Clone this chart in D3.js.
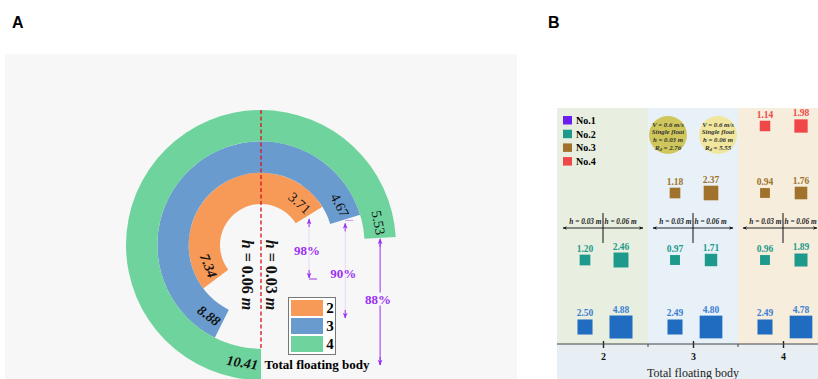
<!DOCTYPE html>
<html><head><meta charset="utf-8">
<script src="https://cdn.jsdelivr.net/npm/d3@7"></script>
<style>body{margin:0;background:#fff}svg{display:block}</style></head>
<body>
<svg id="c" width="818" height="379"></svg>
<script>
// ---------- Panel A data ----------
const ringCats = ["2", "3", "4"];
const valsH003 = [3.71, 4.67, 5.53];
const valsH006 = [7.34, 8.88, 10.41];
const effPct = ["98%", "90%", "88%"];
const ringColors = ["#F79A57", "#6A9BCF", "#6FD39D"];

// ---------- Panel B data ----------
const floatCats = ["2", "3", "4"];
const floatNos = ["No.1", "No.2", "No.3", "No.4"];
const no1H003 = [2.50, 2.49, 2.49];
const no1H006 = [4.88, 4.80, 4.78];
const no2H003 = [1.20, 0.97, 0.96];
const no2H006 = [2.46, 1.71, 1.89];
const no3H003 = [null, 1.18, 0.94];
const no3H006 = [null, 2.37, 1.76];
const no4H003 = [null, null, 1.14];
const no4H006 = [null, null, 1.98];
const singleH = ["0.03", "0.06"];
const singleRd = [2.76, 5.55];
const noColors = ["#1F6CC0", "#1E9A8C", "#A0722C", "#F04848"];
const noLegendColors = ["#6A1EF0", "#1E9A8C", "#A0722C", "#F04848"];
const noTextColors = ["#3B80D2", "#1E9A8C", "#A0722C", "#F04848"];

const svg = d3.select("#c");
const serif = "'Liberation Serif','Times New Roman',serif";
const purple = "#9B30F5";

// ============ PANEL A ============
svg.append("text").attr("x", 12).attr("y", 28).text("A")
  .attr("font-family", "Liberation Sans, Arial, sans-serif").attr("font-weight", "bold").attr("font-size", 16);
svg.append("rect").attr("x", 5).attr("y", 54).attr("width", 512).attr("height", 325).attr("fill", "#f7f7f7");

const cx = 261, cy = 245;
const gA = svg.append("g").attr("transform", `translate(${cx},${cy})`);
const rBand = d3.scaleBand().domain(ringCats).range([41, 135]);
const bw = rBand.bandwidth();
const angleR = d3.scaleLinear().domain([0, 11.5]).range([0, Math.PI]);
const angleL = d3.scaleLinear().domain([0, 10.41]).range([0, Math.PI]);
const color = d3.scaleOrdinal().domain(ringCats).range(ringColors);
const arc = d3.arc();

ringCats.forEach((c, i) => {
  gA.append("path").attr("d", arc({innerRadius: rBand(c), outerRadius: rBand(c) + bw,
    startAngle: -angleL(valsH006[i]), endAngle: 0})).attr("fill", color(c));
  gA.append("path").attr("d", arc({innerRadius: rBand(c), outerRadius: rBand(c) + bw,
    startAngle: 0, endAngle: angleR(valsH003[i])})).attr("fill", color(c));
});

// dashed center line
gA.append("line").attr("x1", 0).attr("x2", 0).attr("y1", -135).attr("y2", 103)
  .attr("stroke", "#d9121b").attr("stroke-width", 1.3).attr("stroke-dasharray", "4,2.5");

const fmt = d3.format(".2f");
// right labels
ringCats.forEach((c, i) => {
  const r = rBand(c) + bw / 2;
  const t = gA.append("text").text(fmt(valsH003[i])).attr("font-family", serif)
    .attr("font-size", 14).attr("text-anchor", "middle").attr("dominant-baseline", "central").attr("fill", "#111");
  const len = t.node().getComputedTextLength();
  const a = angleR(valsH003[i]) - (len / 2 + 3) / r;
  t.attr("transform", `translate(${r * Math.sin(a)},${-r * Math.cos(a)}) rotate(${a * 180 / Math.PI})`);
});
// left labels
ringCats.forEach((c, i) => {
  const r = rBand(c) + bw / 2;
  const t = gA.append("text").text(fmt(valsH006[i])).attr("font-family", serif)
    .attr("font-size", 14).attr("font-weight", "bold").attr("font-style", "italic")
    .attr("text-anchor", "middle").attr("dominant-baseline", "central").attr("fill", "#111");
  const len = t.node().getComputedTextLength();
  const a = -(angleL(valsH006[i]) - (len / 2 + 3) / r);
  t.attr("transform", `translate(${r * Math.sin(a)},${-r * Math.cos(a)}) rotate(${a * 180 / Math.PI + 180})`);
});

// h labels (vertical)
function hLabel(g, x, y, val, size) {
  const t = g.append("text").attr("font-family", serif).attr("font-size", size).attr("font-weight", "bold")
    .attr("text-anchor", "middle").attr("dominant-baseline", "central").attr("fill", "#111")
    .attr("transform", `translate(${x},${y}) rotate(90)`);
  t.append("tspan").attr("font-style", "italic").text("h");
  t.append("tspan").text(" = " + val + " ");
  t.append("tspan").attr("font-style", "italic").text("m");
  return t;
}
hLabel(gA, -13, 30, "0.06", 16);
hLabel(gA, 11, 30, "0.03", 16);

// purple arrows
const defs = svg.append("defs");
defs.append("marker").attr("id", "ah").attr("viewBox", "0 0 10 10").attr("refX", 9).attr("refY", 5)
  .attr("markerWidth", 6).attr("markerHeight", 7).attr("orient", "auto-start-reverse")
  .append("path").attr("d", "M0,1 L10,5 L0,9 L3,5 Z").attr("fill", purple);

const arrowBottoms = [278, 318, 365];
const pctY = [250, 273, 299];
ringCats.forEach((c, i) => {
  const r = rBand(c) + bw / 2;
  const a = angleR(valsH003[i]);
  const x = cx + r * Math.sin(a);
  const y0 = cy - r * Math.cos(a) + (i === 2 ? 1 : 4);
  const faint = i < 2;
  svg.append("line").attr("x1", x).attr("x2", x).attr("y1", y0 + 1).attr("y2", arrowBottoms[i])
    .attr("stroke", purple).attr("stroke-width", faint ? 0.6 : 1).attr("stroke-opacity", faint ? 0.25 : 1);
  svg.append("line").attr("x1", x).attr("x2", x).attr("y1", y0 + 8).attr("y2", y0)
    .attr("stroke", purple).attr("stroke-width", 1).attr("marker-end", "url(#ah)");
  svg.append("line").attr("x1", x).attr("x2", x).attr("y1", arrowBottoms[i] - 8).attr("y2", arrowBottoms[i])
    .attr("stroke", purple).attr("stroke-width", 1).attr("marker-end", "url(#ah)");
  if (i === 0) svg.append("line").attr("x1", x).attr("x2", x + 8).attr("y1", arrowBottoms[i] + 1).attr("y2", arrowBottoms[i] + 1)
    .attr("stroke", purple).attr("stroke-width", 1);
  if (i === 1) svg.append("line").attr("x1", x).attr("x2", x + 8).attr("y1", y0 - 3).attr("y2", y0 - 3)
    .attr("stroke", purple).attr("stroke-width", 0.8).attr("stroke-opacity", 0.6);
  const tx = svg.append("text").attr("x", x - 2).attr("y", pctY[i]).text(effPct[i])
    .attr("font-family", serif).attr("font-weight", "bold").attr("font-size", 13)
    .attr("text-anchor", "middle").attr("dominant-baseline", "central").attr("fill", purple);
  if (i === 2) {
    const bb = tx.node().getBBox();
    svg.insert("rect", () => tx.node()).attr("x", bb.x).attr("y", bb.y + 1).attr("width", bb.width).attr("height", bb.height - 2)
      .attr("fill", "#f7f7f7");
  }
});

// legend A
const lg = svg.append("g");
lg.append("rect").attr("x", 288.5).attr("y", 297.5).attr("width", 47).attr("height", 57)
  .attr("fill", "#fff").attr("stroke", "#777").attr("stroke-width", 1);
ringCats.forEach((c, i) => {
  lg.append("rect").attr("x", 291).attr("y", 300 + i * 18).attr("width", 32).attr("height", 16).attr("fill", color(c));
  lg.append("text").attr("x", 330).attr("y", 308 + i * 18).text(c).attr("font-family", serif)
    .attr("font-weight", "bold").attr("font-size", 15).attr("text-anchor", "middle").attr("dominant-baseline", "central");
});
svg.append("text").attr("x", 317).attr("y", 364).text("Total floating body").attr("font-family", serif)
  .attr("font-weight", "bold").attr("font-size", 13).attr("text-anchor", "middle").attr("dominant-baseline", "central");

// ============ PANEL B ============
svg.append("text").attr("x", 548).attr("y", 28).text("B")
  .attr("font-family", "Liberation Sans, Arial, sans-serif").attr("font-weight", "bold").attr("font-size", 16);

const x = d3.scalePoint().domain(floatCats).range([603, 783]);
const step = x.step();
const y = d3.scalePoint().domain(floatNos).range([327, 126]);
const size = d3.scaleLinear().domain([0, 4.88]).range([6.7, 23]);
const hOff = [-18, 18];
const axisY = 344;

svg.append("rect").attr("x", 557).attr("y", 108).attr("width", 261).attr("height", 271).attr("fill", "#e7eff4");
const colBg = ["#e9efe0", "#e8f1f7", "#f6eddc"];
floatCats.forEach((c, i) => {
  svg.append("rect").attr("x", Math.max(557, x(c) - step / 2)).attr("y", 108)
    .attr("width", x(c) + step / 2 - Math.max(557, x(c) - step / 2)).attr("height", axisY - 108).attr("fill", colBg[i]);
});

// single float bubbles
const bubbleColors = ["#D0C75C", "#F0E69E"];
singleH.forEach((h, j) => {
  const bx = [668, 718][j], by = 135;
  svg.append("circle").attr("cx", bx).attr("cy", by).attr("r", 19).attr("fill", bubbleColors[j]);
  const lines = ["V = 0.6 m/s", "Single float", "h = " + h + " m", null];
  const fs = 6.8;
  lines.forEach((l, k) => {
    const t = svg.append("text").attr("x", bx).attr("y", by - 11 + k * 7.6).attr("font-family", serif)
      .attr("font-size", fs).attr("font-weight", "bold").attr("font-style", "italic").attr("fill", "#333")
      .attr("text-anchor", "middle").attr("dominant-baseline", "central");
    if (l) t.text(l);
    else {
      t.append("tspan").text("R");
      t.append("tspan").attr("font-size", 4.8).attr("dy", 2).text("d");
      t.append("tspan").attr("dy", -2).text(" = " + singleRd[j]);
    }
  });
});

// h cross arrows
defs.append("marker").attr("id", "bh").attr("viewBox", "0 0 10 10").attr("refX", 9).attr("refY", 5)
  .attr("markerWidth", 6).attr("markerHeight", 5).attr("orient", "auto-start-reverse")
  .append("path").attr("d", "M0,1 L10,5 L0,9 L3,5 Z").attr("fill", "#111");
floatCats.forEach(c => {
  const xc = x(c);
  svg.append("line").attr("x1", xc - 40).attr("x2", Math.min(817, xc + 40)).attr("y1", 228).attr("y2", 228)
    .attr("stroke", "#111").attr("stroke-width", 0.9).attr("marker-start", "url(#bh)").attr("marker-end", "url(#bh)");
  svg.append("line").attr("x1", xc).attr("x2", xc).attr("y1", 213).attr("y2", 243).attr("stroke", "#111").attr("stroke-width", 1);
  [["0.03", -1], ["0.06", 1]].forEach(([v, s]) => {
    const t = svg.append("text").attr("x", xc + s * 1.5).attr("y", 224).attr("font-family", serif)
      .attr("font-size", 7.3).attr("font-weight", "bold").attr("font-style", "italic").attr("fill", "#222")
      .attr("text-anchor", s < 0 ? "end" : "start");
    t.text("h = " + v + " m");
  });
});

// squares
const series = [[no1H003, no1H006], [no2H003, no2H006], [no3H003, no3H006], [no4H003, no4H006]];
series.forEach((pair, n) => {
  pair.forEach((arr, j) => {
    arr.forEach((v, ci) => {
      if (v == null) return;
      const xc = x(floatCats[ci]) + hOff[j];
      const yc = y(floatNos[n]);
      const s = size(v);
      svg.append("rect").attr("x", xc - s / 2).attr("y", yc - s / 2).attr("width", s).attr("height", s)
        .attr("fill", noColors[n]);
      svg.append("text").attr("x", xc).attr("y", yc - s / 2 - 3).text(fmt(v)).attr("font-family", serif)
        .attr("font-weight", "bold").attr("font-size", 9.5).attr("text-anchor", "middle").attr("fill", noTextColors[n]);
    });
  });
});

// legend B
floatNos.forEach((n, i) => {
  svg.append("rect").attr("x", 563).attr("y", 116 + i * 13.7).attr("width", 9).attr("height", 8.5).attr("fill", noLegendColors[i]);
  svg.append("text").attr("x", 576).attr("y", 120.5 + i * 13.7).text(n).attr("font-family", serif)
    .attr("font-weight", "bold").attr("font-size", 10).attr("dominant-baseline", "central");
});

// axis
const axis = d3.axisBottom(x).tickSize(0).tickPadding(9);
const ga = svg.append("g").attr("transform", `translate(0,${axisY})`).call(axis);
ga.select(".domain").remove();
ga.append("line").attr("x1", 557).attr("x2", 818).attr("stroke", "#444").attr("stroke-width", 1);
ga.selectAll(".tick").append("line").attr("y1", -3).attr("y2", 4).attr("stroke", "#222").attr("stroke-width", 1.4);
ga.selectAll(".tick text").attr("font-family", serif).attr("font-weight", "bold").attr("font-size", 10).attr("fill", "#111");
[648, 738].forEach(mx => ga.append("line").attr("x1", mx).attr("x2", mx).attr("y1", 0).attr("y2", 3).attr("stroke", "#444"));
svg.append("text").attr("x", 693).attr("y", 373).text("Total floating body").attr("font-family", serif)
  .attr("font-size", 12).attr("text-anchor", "middle").attr("dominant-baseline", "central").attr("fill", "#222");
</script>
</body></html>
